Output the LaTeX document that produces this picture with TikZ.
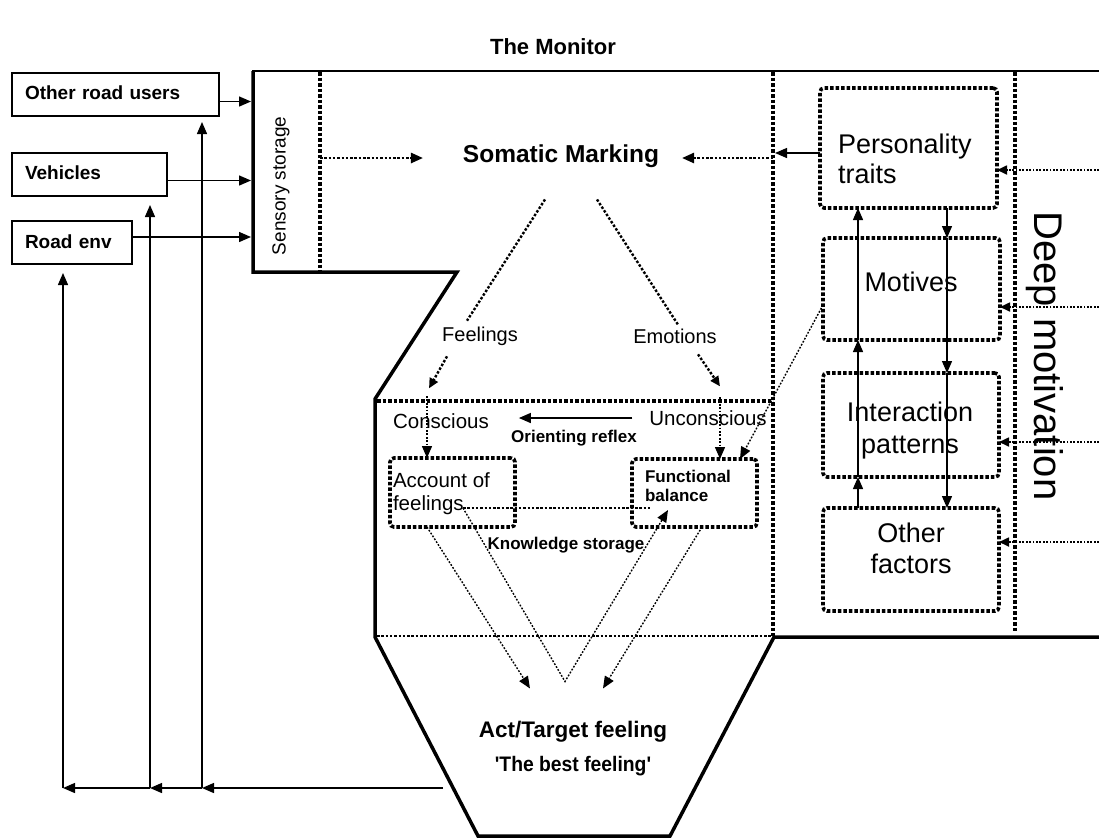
\documentclass[tikz,border=0pt]{standalone}
\usepackage{fontspec}
\setmainfont{Liberation Sans}
\usetikzlibrary{arrows.meta,calc}
\newcommand{\fs}[2]{\fontsize{#1}{#2}\selectfont}
\begin{document}
\begin{tikzpicture}[x=1pt,y=-1pt,
  every node/.style={inner sep=0pt, outer sep=0pt},
  frame/.style={line width=3.5pt, line join=miter},
  thinframe/.style={line width=2pt},
  bigdot/.style={line width=4pt, dash pattern=on 3.5pt off 2pt},
  dotbox/.style={draw, line width=3.6pt, dash pattern=on 3.5pt off 2pt, rounded corners=4pt},
  meddot/.style={line width=2.4pt, dash pattern=on 2.5pt off 1.8pt},
  thindot/.style={line width=1.4pt, dash pattern=on 1.8pt off 1.6pt},
  rdot/.style={line width=1.7pt, dash pattern=on 1.8pt off 1.6pt},
  inline/.style={line width=1.4pt},
  tip/.style={-{Triangle[length=12pt,width=10pt]}},
  smalltip/.style={-{Triangle[length=10pt,width=9pt]}},
  srcbox/.style={draw, line width=1.3pt, minimum height=43pt, text width=#1, inner xsep=13pt, align=left, font=\fs{19}{22}\bfseries},
  rtext/.style={font=\fs{27}{30}},
]
\useasboundingbox (0,0) rectangle (1099,839);

% title
\node[font=\fs{22}{26}\bfseries] (title) at (553,47) {The Monitor};

% source boxes
\node[srcbox=181pt] (oru) at (115.5,94.5) {\raisebox{4pt}{Other road users}};
\node[srcbox=129pt] (veh) at (89.5,174.5) {\raisebox{3pt}{Vehicles}};
\node[srcbox=94pt] (road) at (72,242.5) {\raisebox{2pt}{Road env}};

% main frame
\draw[thinframe] (252,71) -- (1099,71);
\draw[frame] (253,71) -- (253,272) -- (457,272) -- (375,399) -- (375,637)
  -- (478,836) -- (670,836) -- (774,637) -- (1099,637);

\coordinate (fl) at (251,0);
\draw[inline,tip] ([yshift=-7pt]oru.east) -- ([yshift=-7pt]oru.east -| fl);
\draw[inline,tip] ([yshift=-6pt]veh.east) -- ([yshift=-6pt]veh.east -| fl);
\draw[inline,tip] ([yshift=5.5pt]road.east) -- ([yshift=5.5pt]road.east -| fl);

% dotted structure lines
\draw[bigdot] (320,72) -- (320,272);
\draw[bigdot] (773,72) -- (773,636);
\draw[bigdot] (1015,72) -- (1015,632);
\draw[bigdot] (377,401) -- (773,401);
\draw[line width=2.6pt, dash pattern=on 2.5pt off 1.8pt] (377,636) -- (773,636);

% sensory storage
\node[rotate=90, font=\fs{19}{22}] (sens) at (281,186) {Sensory storage};

% somatic marking
\node[font=\fs{24.5}{28}\bfseries] (soma) at (561,156) {Somatic Marking};
\coordinate (ssR) at (320,158);
\coordinate (dmL) at (773,158);
\draw[meddot,tip,shorten >=40pt] (ssR) -- (soma.west |- ssR);
\draw[meddot,tip,shorten >=23pt] (dmL) -- (soma.east |- dmL);

% feelings / emotions
\node[font=\fs{20}{24}] (feel) at (480,336) {Feelings};
\node[font=\fs{20}{24}] (emo) at (675,336) {Emotions};
\draw[meddot] ($(soma.south)+(-16,32)$) -- ($(feel.north)+(-13,-6)$);
\draw[meddot] ($(soma.south)+(36,32)$) -- ($(emo.north)+(3,-4)$);
\draw[meddot,smalltip] ($(feel.south)+(-33,11)$) -- ($(feel.south)+(-51,43)$);
\draw[meddot,smalltip] ($(emo.south)+(23,11)$) -- ($(emo.south)+(45,43)$);

% conscious / unconscious
\node[font=\fs{20.5}{24}] (cons) at (441,421) {Conscious};
\node[font=\fs{20.5}{24}] (uncons) at (708,418) {Unconscious};
\draw[inline,tip,shorten <=17pt,shorten >=30pt] (uncons.west) -- (cons.east |- uncons.west);
\node[font=\fs{17}{20}\bfseries] (orr) at (574,438) {Orienting reflex};

% account / functional
\node[dotbox, minimum width=125pt, minimum height=69pt] (acc) at (452.5,492.5) {};
\node[anchor=west, align=left, font=\fs{20.5}{23}] (accT) at (393,493.5) {Account of\\feelings};
\node[dotbox, minimum width=125pt, minimum height=68pt] (fun) at (694.5,493) {};
\node[anchor=west, align=left, font=\fs{17}{19}\bfseries] (funT) at (645,485.5) {Functional\\balance};

\draw[thindot,tip] ($(acc.north west)+(37,-62)$) -- ($(acc.north west)+(37,0)$);
\draw[thindot,tip] ($(fun.north west)+(88,-62)$) -- ($(fun.north west)+(88,0)$);

\node[font=\fs{17}{20}\bfseries] (know) at (566,545) {Knowledge storage};
\draw[meddot] ($(acc.center)+(10.5,15.5)$) -- ($(fun.west)+(20,15)$);

% diagonals to act
\node[font=\fs{22.5}{26}\bfseries] (act) at (573,732) {Act/Target feeling};
\node[font=\fs{21}{24}\bfseries] (best) at (573,766) {\scalebox{0.92}[1]{\textquotesingle The best feeling\textquotesingle}};

\draw[thindot,tip] ($(acc.south west)+(37,0)$) -- ($(act.north)+(-43,-33)$);
\draw[thindot,tip] ($(acc.center)+(10.5,15.5)$) -- ($(act.north)+(-8,-40)$) -- ($(fun.center)+(-26.5,17)$);
\draw[thindot,tip] ($(fun.south west)+(70,0)$) -- ($(act.north)+(30,-33)$);

% feedback arrows
\coordinate (fb) at (443,788);
\coordinate (v3) at (202,788);
\coordinate (v2) at (150,788);
\coordinate (v1) at (63,788);
\draw[inline,tip] (fb) -- (v3);
\draw[inline,tip] (v3) -- (v2);
\draw[inline,tip] (v2) -- (v1);
\draw[inline,tip] (v3) -- ([yshift=-6pt]oru.south -| v3);
\draw[inline,tip] (v2) -- ([yshift=-9pt]veh.south -| v2);
\draw[inline,tip] (v1) -- ([yshift=-9pt]road.south -| v1);

% right boxes
\node[dotbox, minimum width=177pt, minimum height=120pt] (pt) at (908.5,148) {};
\node[dotbox, minimum width=177pt, minimum height=102pt] (mot) at (911.5,289) {};
\node[dotbox, minimum width=176pt, minimum height=104pt] (ip) at (911,425) {};
\node[dotbox, minimum width=176pt, minimum height=103pt] (of) at (911,559.5) {};
\node[rtext, anchor=west, align=left] (ptT) at (838,159) {Personality\\traits};
\node[rtext] (motT) at (911,282) {Motives};
\node[rtext, align=center, font=\fs{27}{32}] (ipT) at (910,431) {Interaction\\patterns};
\node[rtext, align=center, font=\fs{27}{31}] (ofT) at (911,548.5) {Other\\factors};

\coordinate (vL) at (775,0);
\draw[inline,tip] ([yshift=-5pt]pt.west) -- ([yshift=-5pt]pt.west -| vL);

\coordinate (ux) at (858,0);
\coordinate (dx) at (947,0);
\draw[inline,tip] (ux |- of.north) -- (ux |- ip.south);
\draw[inline,tip] (ux |- ip.south) -- (ux |- mot.south);
\draw[inline,tip] (ux |- mot.south) -- (ux |- pt.south);
\draw[inline,tip] (dx |- pt.south) -- (dx |- mot.north);
\draw[inline,tip] (dx |- mot.north) -- (dx |- ip.north);
\draw[inline,tip] (dx |- ip.north) -- (dx |- of.north);

\draw[thindot,tip] ([yshift=-16pt]mot.west) -- ($(fun.north east)+(-17,0)$);

\coordinate (rE) at (1099,0);
\draw[rdot,smalltip] ([yshift=-22pt]pt.east -| rE) -- ([yshift=-22pt]pt.east);
\draw[rdot,smalltip] ([yshift=-18pt]mot.east -| rE) -- ([yshift=-18pt]mot.east);
\draw[rdot,smalltip] ([yshift=-17pt]ip.east -| rE) -- ([yshift=-17pt]ip.east);
\draw[rdot,smalltip] ([yshift=17.5pt]of.east -| rE) -- ([yshift=17.5pt]of.east);

\node[rotate=-90, font=\fs{40}{44}] (deep) at (1045,356) {Deep motivation};
\end{tikzpicture}
\end{document}
